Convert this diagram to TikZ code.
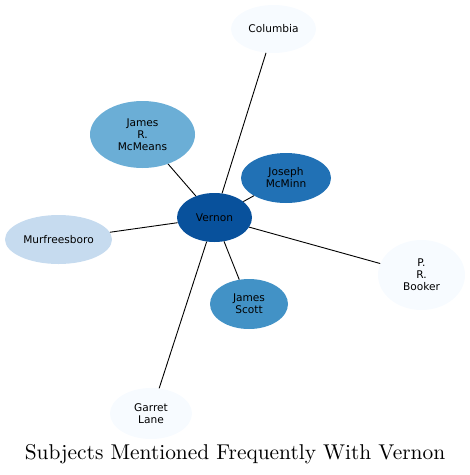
\documentclass[tikz,border=0pt]{standalone}
\usepackage{fontspec}
\usepackage{tikz}
\usetikzlibrary{shapes.geometric, positioning}
\newfontfamily\labelfont{DejaVu Sans}
\newfontfamily\titlefont{lmroman10-regular.otf}
\definecolor{blueA}{HTML}{08519C}
\definecolor{blueB}{HTML}{2171B5}
\definecolor{blueC}{HTML}{4292C6}
\definecolor{blueD}{HTML}{6BAED6}
\definecolor{blueE}{HTML}{C6DBEF}
\definecolor{blueF}{HTML}{F7FBFF}

\begin{document}
\begin{tikzpicture}[
    x=1pt, y=-1pt,
    subject/.style={ellipse, inner sep=0pt, align=center, text=black, font=\labelfont\fontsize{10.6}{12}\selectfont},
    link/.style={line width=0.9pt, black}
]
    \useasboundingbox (0,0) rectangle (470,475);
    \node[subject, fill=blueA, minimum width=75pt, minimum height=49pt] (vernon) at (214.5,217.5) {Vernon};
    \node[subject, fill=blueF, minimum width=85pt, minimum height=48pt] (columbia) at (273.5,29) {Columbia};
    \node[subject, fill=blueD, minimum width=105pt, minimum height=67pt] (mcmeans) at (142.5,134.5) {James\\R.\\McMeans};
    \node[subject, fill=blueB, minimum width=90pt, minimum height=50pt] (mcminn) at (286,178) {Joseph\\McMinn};
    \node[subject, fill=blueE, minimum width=107pt, minimum height=49pt] (murf) at (58.5,239.5) {Murfreesboro};
    \node[subject, fill=blueF, minimum width=87pt, minimum height=70pt] (booker) at (421.5,275) {P.\\R.\\Booker};
    \node[subject, fill=blueC, minimum width=78pt, minimum height=50pt] (scott) at (249,304) {James\\Scott};
    \node[subject, fill=blueF, minimum width=82pt, minimum height=51pt] (lane) at (151,413.5) {Garret\\Lane};
    \node[font=\titlefont\fontsize{21.4}{24}\selectfont] (title) at (235,454) {Subjects Mentioned Frequently With Vernon};
    \draw[link] (vernon) -- (columbia);
    \draw[link] (vernon) -- (mcmeans);
    \draw[link] (vernon) -- (mcminn);
    \draw[link] (vernon) -- (murf);
    \draw[link] (vernon) -- (booker);
    \draw[link] (vernon) -- (scott);
    \draw[link] (vernon) -- (lane);
\end{tikzpicture}
\end{document}
